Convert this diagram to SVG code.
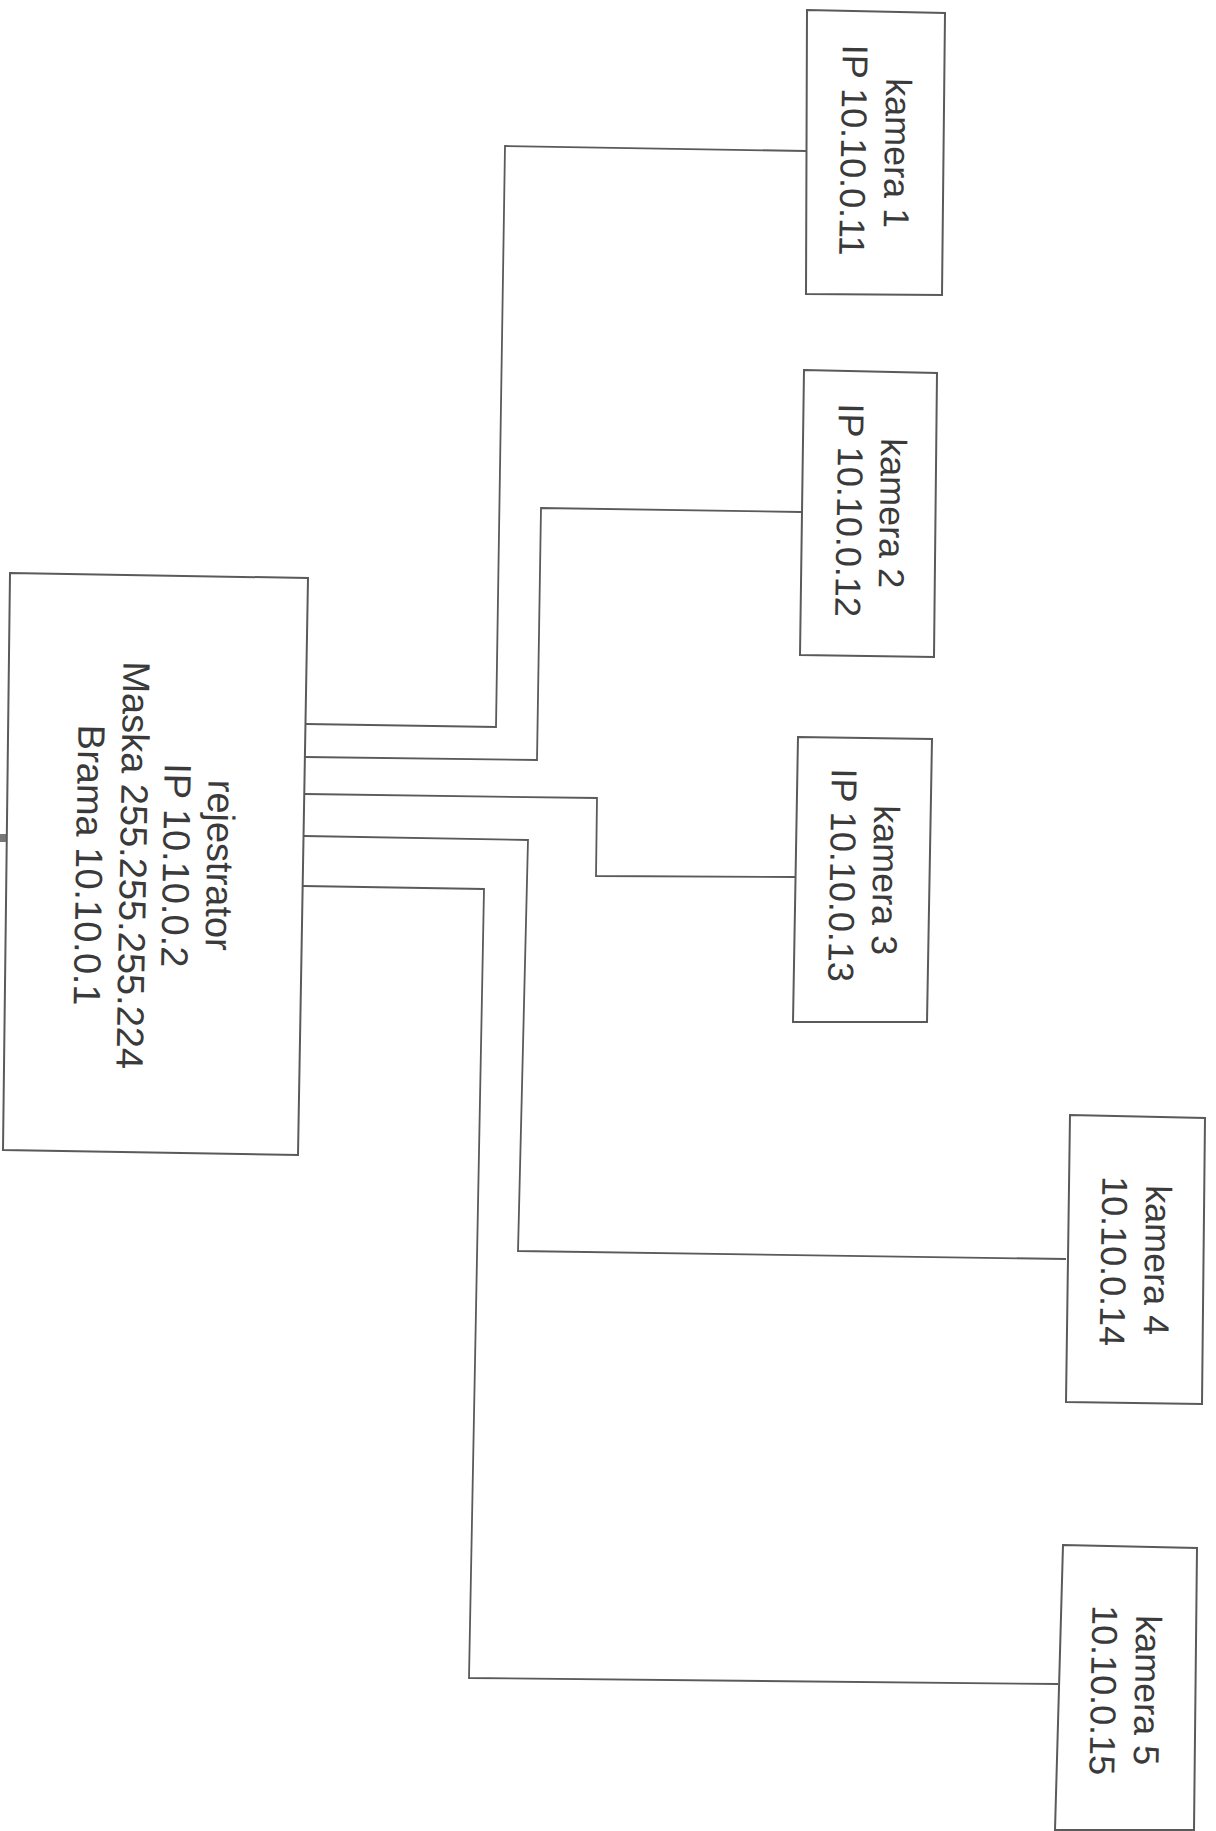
<svg xmlns="http://www.w3.org/2000/svg" width="1216" height="1831" viewBox="0 0 1216 1831">
<style>
.box{fill:#ffffff;stroke:#5a5a5a;stroke-width:2}
.wire{fill:none;stroke:#5a5a5a;stroke-width:1.8;stroke-linejoin:miter}
.t{font-family:"Liberation Sans",Arial,sans-serif;fill:#3a3a3a;text-anchor:middle}
.r{font-size:38px}
.c{font-size:36px}
</style>
<rect x="0" y="0" width="1216" height="1831" fill="#ffffff"/>
<g id="connectors">
<polyline class="wire" points="306,724 496,727 505,146 806,151"/>
<polyline class="wire" points="305,757 537,760 541,508 801,512"/>
<polyline class="wire" points="305,794 597,798 596,876 795,877"/>
<polyline class="wire" points="304,836 528,840 518,1251 1066,1259"/>
<polyline class="wire" points="303,886 484,889 469,1678 1058,1684"/>
<line class="wire" x1="0" y1="838" x2="6" y2="838" style="stroke-width:8;stroke:#777"/>
</g>
<g id="rejestrator">
<polygon class="box" points="10,573 308,578 298,1155 3,1150"/>
<text class="t r" transform="translate(207,865) rotate(91)">rejestrator</text>
<text class="t r" transform="translate(163,865) rotate(91)">IP 10.10.0.2</text>
<text class="t r" transform="translate(120,865) rotate(91)">Maska 255.255.255.224</text>
<text class="t r" transform="translate(76,865) rotate(91)">Brama 10.10.0.1</text>
</g>
<g id="kamera1">
<polygon class="box" points="807,10 945,13 942,295 806,294"/>
<text class="t c" transform="translate(885,153) rotate(91)">kamera 1</text>
<text class="t c" transform="translate(841,150) rotate(91)">IP 10.10.0.11</text>
</g>
<g id="kamera2">
<polygon class="box" points="804,370 937,373 934,657 800,655"/>
<text class="t c" transform="translate(880,513) rotate(91)">kamera 2</text>
<text class="t c" transform="translate(837,510) rotate(91)">IP 10.10.0.12</text>
</g>
<g id="kamera3">
<polygon class="box" points="798,737 932,739 927,1022 793,1022"/>
<text class="t c" transform="translate(873,880) rotate(91)">kamera 3</text>
<text class="t c" transform="translate(830,875) rotate(91)">IP 10.10.0.13</text>
</g>
<g id="kamera4">
<polygon class="box" points="1070,1115 1205,1118 1202,1404 1066,1402"/>
<text class="t c" transform="translate(1145,1260) rotate(91)">kamera 4</text>
<text class="t c" transform="translate(1101,1261) rotate(91)">10.10.0.14</text>
</g>
<g id="kamera5">
<polygon class="box" points="1063,1545 1197,1548 1194,1830 1055,1830"/>
<text class="t c" transform="translate(1135,1690) rotate(91)">kamera 5</text>
<text class="t c" transform="translate(1091,1690) rotate(91)">10.10.0.15</text>
</g>
</svg>
